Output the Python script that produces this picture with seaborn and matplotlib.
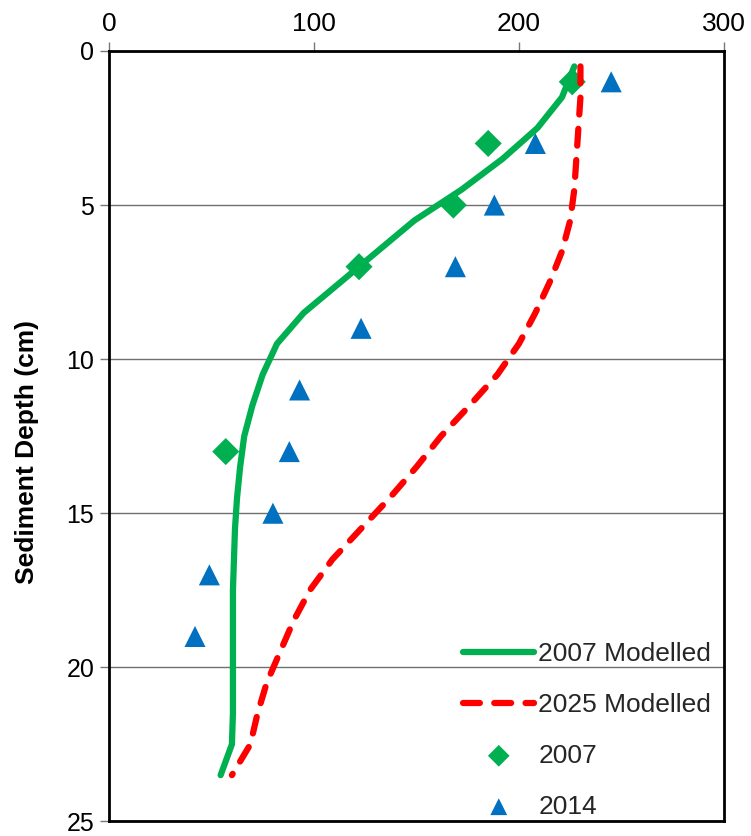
import matplotlib
matplotlib.use("Agg")
from matplotlib import pyplot as plt
import seaborn as sns
import pandas as pd

# modelled profiles (depth in cm, value), nodes every 1 cm
depth_model = [0.5, 1.5, 2.5, 3.5, 4.5, 5.5, 6.5, 7.5, 8.5, 9.5, 10.5, 11.5,
               12.5, 13.5, 14.5, 15.5, 16.5, 17.5, 18.5, 19.5, 20.5, 21.5,
               22.5, 23.5]
value_2007_model = [227, 221, 209, 192, 172, 149, 131, 113, 95, 82, 75, 70,
                    66, 64, 62.5, 61.5, 61, 60.5, 60.5, 60.5, 60.5, 60.5,
                    60, 54.5]
value_2025_model = [230, 230, 229, 228, 227, 225, 221, 215, 208, 200, 189.5, 176,
                    162, 150, 137, 123, 109, 98, 90, 83.5, 77, 72.5,
                    69, 60]

# measured cores
depth_2007 = [1, 3, 5, 7, 13]
value_2007 = [226, 185, 168, 122, 57]

depth_2014 = [1, 3, 5, 7, 9, 11, 13, 15, 17, 19]
value_2014 = [245, 208, 188, 169, 123, 93, 88, 80, 49, 42]

green = "#00B050"
red = "#FF0000"
blue = "#0070C0"

sns.set_style("white")
plt.rcParams['font.family'] = ['Liberation Sans', 'DejaVu Sans']

m07 = pd.DataFrame({'x': value_2007_model, 'depth': depth_model})
m25 = pd.DataFrame({'x': value_2025_model, 'depth': depth_model})
o07 = pd.DataFrame({'x': value_2007, 'depth': depth_2007})
o14 = pd.DataFrame({'x': value_2014, 'depth': depth_2014})

fig = plt.figure(figsize=(7.51, 8.36), dpi=100)
ax = fig.add_axes([0.145, 0.0175, 0.819, 0.9215])

sns.lineplot(data=m07, x='x', y='depth', sort=False, orient='y', ax=ax,
             color=green, linewidth=4.5, label='2007 Modelled',
             solid_capstyle='round', solid_joinstyle='round')
sns.lineplot(data=m25, x='x', y='depth', sort=False, orient='y', ax=ax,
             color=red, linewidth=4.5, label='2025 Modelled',
             dash_capstyle='round')
ax.lines[-1].set_dashes((2.7, 2.3))
sns.scatterplot(data=o07, x='x', y='depth', ax=ax, marker='D', color=green,
                s=190, edgecolor='none', label='2007')
sns.scatterplot(data=o14, x='x', y='depth', ax=ax, marker='^', color=blue,
                s=230, edgecolor='none', label='2014')

ax.set_xlim(0, 300)
ax.set_ylim(25, 0)
ax.set_xticks([0, 100, 200, 300])
ax.set_yticks([0, 5, 10, 15, 20, 25])
ax.xaxis.tick_top()
ax.set_xlabel('')
ax.set_ylabel('Sediment Depth (cm)', fontsize=19, fontweight='bold', color='black')
ax.yaxis.set_label_coords(-0.113, 0.48)
ax.tick_params(axis='both', labelsize=19, labelcolor='black', direction='out',
               length=6.5, width=1, color='#777777', pad=4)
ax.tick_params(axis='y', labelsize=18)
ax.tick_params(axis='x', top=True, bottom=False)
ax.tick_params(axis='y', left=True)

ax.yaxis.grid(True, color='#707070', linewidth=1)
ax.xaxis.grid(False)
ax.set_axisbelow(True)
for sp in ax.spines.values():
    sp.set_color('black')
    sp.set_linewidth(2)

ax.legend(loc='lower right', bbox_to_anchor=(0.99, -0.005), frameon=False,
          fontsize=19, handlelength=2.7, handletextpad=0.15,
          labelspacing=1.02, borderaxespad=0.0, borderpad=0.25,
          markerscale=0.8)

fig.savefig('out.png', dpi=100)
